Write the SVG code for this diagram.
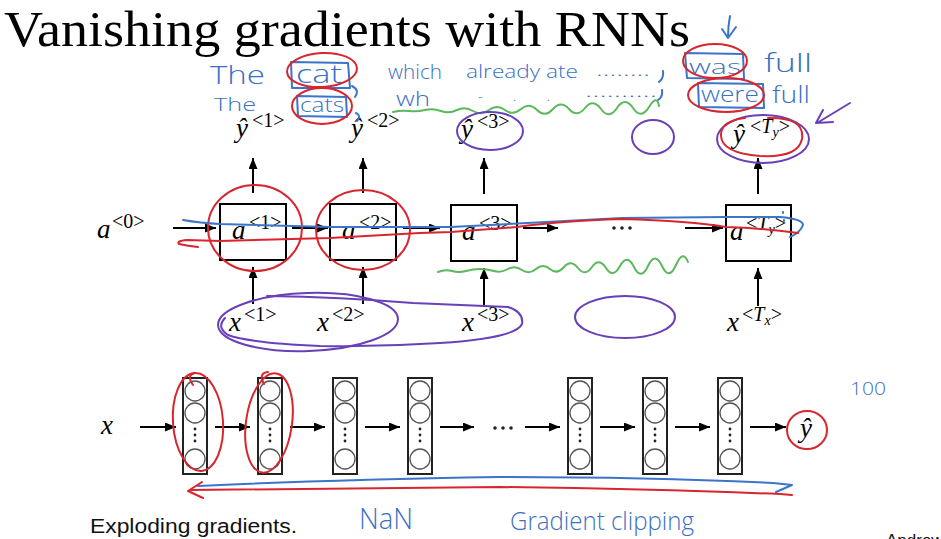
<svg xmlns="http://www.w3.org/2000/svg" width="941" height="539" viewBox="0 0 941 539">
  <defs>
    <marker id="ah" markerUnits="userSpaceOnUse" markerWidth="11" markerHeight="9" refX="11" refY="4.5" orient="auto">
      <path d="M0,0 L11,4.5 L0,9 z" fill="#000"/>
    </marker>
    <style>
      .title{font-family:"Liberation Serif",serif;font-size:50px;fill:#000}
      .mi{font-family:"Liberation Serif",serif;font-style:italic;font-size:27px;fill:#000}
      .sup{font-family:"Liberation Serif",serif;font-size:20px;fill:#000}
      .supi{font-style:italic}
      .box{fill:#fff;stroke:#000;stroke-width:2}
      .col{fill:#fff;stroke:#222;stroke-width:2}
      .unit{fill:none;stroke:#555;stroke-width:1.3}
      .dot{fill:#222}
      .edge{stroke:#000;stroke-width:2;fill:none;marker-end:url(#ah)}
      .hand{font-family:"Open Sans","DejaVu Sans",sans-serif;font-weight:300;fill:#3b70c4}
      .blue{fill:none;stroke:#3b74c8;stroke-width:2;stroke-linecap:round;stroke-linejoin:round}
      .red{fill:none;stroke:#d8262e;stroke-width:2;stroke-linecap:round;stroke-linejoin:round}
      .purple{fill:none;stroke:#6a40b8;stroke-width:2;stroke-linecap:round;stroke-linejoin:round}
      .green{fill:none;stroke:#5cb85c;stroke-width:2;stroke-linecap:round;stroke-linejoin:round}
      .sans{font-family:"Liberation Sans","Open Sans",sans-serif;fill:#111}
    </style>
  </defs>

  <rect width="941" height="539" fill="#fff"/>

  <text class="title" x="4" y="46" textLength="686" lengthAdjust="spacingAndGlyphs">Vanishing gradients with RNNs</text>

  <!-- RNN unrolled over time -->
  <g id="rnn-cells">
    <g id="a1"><rect class="box" x="220" y="204" width="66" height="56"/>
      <text class="mi" x="232" y="239">a</text><text class="sup" x="249" y="229">&lt;1&gt;</text></g>
    <g id="a2"><rect class="box" x="330" y="204" width="66" height="56"/>
      <text class="mi" x="342" y="239">a</text><text class="sup" x="359" y="229">&lt;2&gt;</text></g>
    <g id="a3"><rect class="box" x="451" y="205" width="66" height="56"/>
      <text class="mi" x="462" y="240">a</text><text class="sup" x="479" y="230">&lt;3&gt;</text></g>
    <g id="aTy"><rect class="box" x="726" y="205" width="65" height="56"/>
      <text class="mi" x="730" y="240">a</text><text class="sup" x="746" y="230">&lt;<tspan class="supi">T</tspan><tspan class="supi" font-size="14" dy="4">y</tspan><tspan dy="-4">&gt;</tspan></text></g>
  </g>

  <g id="rnn-labels">
    <g id="a0"><text class="mi" x="97" y="238">a</text><text class="sup" x="112" y="228">&lt;0&gt;</text></g>
    <g id="x1"><text class="mi" x="229" y="331">x</text><text class="sup" x="244" y="321">&lt;1&gt;</text></g>
    <g id="x2"><text class="mi" x="317" y="331">x</text><text class="sup" x="332" y="321">&lt;2&gt;</text></g>
    <g id="x3"><text class="mi" x="462" y="331">x</text><text class="sup" x="477" y="321">&lt;3&gt;</text></g>
    <g id="xTx"><text class="mi" x="727" y="331">x</text><text class="sup" x="742" y="321">&lt;<tspan class="supi">T</tspan><tspan class="supi" font-size="14" dy="4">x</tspan><tspan dy="-4">&gt;</tspan></text></g>
    <g id="y1"><text class="mi" x="236" y="137">ŷ</text><text class="sup" x="252" y="127">&lt;1&gt;</text></g>
    <g id="y2"><text class="mi" x="351" y="137">ŷ</text><text class="sup" x="367" y="127">&lt;2&gt;</text></g>
    <g id="y3"><text class="mi" x="461" y="138">ŷ</text><text class="sup" x="477" y="128">&lt;3&gt;</text></g>
    <g id="yTy"><text class="mi" x="733" y="143">ŷ</text><text class="sup" x="750" y="133">&lt;<tspan class="supi">T</tspan><tspan class="supi" font-size="14" dy="4">y</tspan><tspan dy="-4">&gt;</tspan></text></g>
    <g id="rnn-ellipsis" class="dot"><circle cx="614" cy="228" r="1.8"/><circle cx="622" cy="228" r="1.8"/><circle cx="630" cy="228" r="1.8"/></g>
  </g>

  <!-- deep feed-forward network -->
  <g id="ffn">
    <text id="ffn-x" class="mi" x="101" y="434">x</text>
    <g id="c1"><rect class="col" x="183" y="378" width="24" height="96"/></g>
    <g id="c2"><rect class="col" x="258" y="378" width="24" height="96"/></g>
    <g id="c3"><rect class="col" x="333" y="378" width="24" height="96"/></g>
    <g id="c4"><rect class="col" x="408" y="378" width="24" height="96"/></g>
    <g id="c5"><rect class="col" x="568" y="378" width="24" height="96"/></g>
    <g id="c6"><rect class="col" x="643" y="378" width="24" height="96"/></g>
    <g id="c7"><rect class="col" x="718" y="378" width="24" height="96"/></g>
    <g id="units">
      <g transform="translate(195,0)"><circle class="unit" cy="391" r="10"/><circle class="unit" cy="413" r="10"/><circle class="unit" cy="459" r="10"/><circle class="dot" cy="429" r="1.4"/><circle class="dot" cy="435" r="1.4"/><circle class="dot" cy="441" r="1.4"/></g>
      <g transform="translate(270,0)"><circle class="unit" cy="391" r="10"/><circle class="unit" cy="413" r="10"/><circle class="unit" cy="459" r="10"/><circle class="dot" cy="429" r="1.4"/><circle class="dot" cy="435" r="1.4"/><circle class="dot" cy="441" r="1.4"/></g>
      <g transform="translate(345,0)"><circle class="unit" cy="391" r="10"/><circle class="unit" cy="413" r="10"/><circle class="unit" cy="459" r="10"/><circle class="dot" cy="429" r="1.4"/><circle class="dot" cy="435" r="1.4"/><circle class="dot" cy="441" r="1.4"/></g>
      <g transform="translate(420,0)"><circle class="unit" cy="391" r="10"/><circle class="unit" cy="413" r="10"/><circle class="unit" cy="459" r="10"/><circle class="dot" cy="429" r="1.4"/><circle class="dot" cy="435" r="1.4"/><circle class="dot" cy="441" r="1.4"/></g>
      <g transform="translate(580,0)"><circle class="unit" cy="391" r="10"/><circle class="unit" cy="413" r="10"/><circle class="unit" cy="459" r="10"/><circle class="dot" cy="429" r="1.4"/><circle class="dot" cy="435" r="1.4"/><circle class="dot" cy="441" r="1.4"/></g>
      <g transform="translate(655,0)"><circle class="unit" cy="391" r="10"/><circle class="unit" cy="413" r="10"/><circle class="unit" cy="459" r="10"/><circle class="dot" cy="429" r="1.4"/><circle class="dot" cy="435" r="1.4"/><circle class="dot" cy="441" r="1.4"/></g>
      <g transform="translate(730,0)"><circle class="unit" cy="391" r="10"/><circle class="unit" cy="413" r="10"/><circle class="unit" cy="459" r="10"/><circle class="dot" cy="429" r="1.4"/><circle class="dot" cy="435" r="1.4"/><circle class="dot" cy="441" r="1.4"/></g>
    </g>
    <g id="ffn-ellipsis" class="dot"><circle cx="495" cy="428" r="1.8"/><circle cx="503" cy="428" r="1.8"/><circle cx="511" cy="428" r="1.8"/></g>
    <text id="ffn-yhat" class="mi" x="800" y="437">ŷ</text>
  </g>

  <g id="connectors">
    <!-- recurrent links -->
    <line class="edge" x1="173" y1="228" x2="216" y2="228"/>
    <line class="edge" x1="292" y1="228" x2="328" y2="228"/>
    <line class="edge" x1="403" y1="228" x2="440" y2="228"/>
    <line class="edge" x1="523" y1="228" x2="558" y2="228"/>
    <line class="edge" x1="685" y1="228" x2="723" y2="228"/>
    <!-- outputs -->
    <line class="edge" x1="253" y1="193" x2="253" y2="158"/>
    <line class="edge" x1="363" y1="193" x2="363" y2="158"/>
    <line class="edge" x1="484" y1="194" x2="484" y2="158"/>
    <line class="edge" x1="758" y1="194" x2="758" y2="158"/>
    <!-- inputs -->
    <line class="edge" x1="253" y1="304" x2="253" y2="267"/>
    <line class="edge" x1="363" y1="304" x2="363" y2="267"/>
    <line class="edge" x1="484" y1="306" x2="484" y2="268"/>
    <line class="edge" x1="758" y1="306" x2="758" y2="268"/>
    <!-- layer to layer -->
    <line class="edge" x1="140" y1="427" x2="176" y2="427"/>
    <line class="edge" x1="215" y1="427" x2="250" y2="427"/>
    <line class="edge" x1="290" y1="427" x2="325" y2="427"/>
    <line class="edge" x1="365" y1="427" x2="400" y2="427"/>
    <line class="edge" x1="440" y1="427" x2="474" y2="427"/>
    <line class="edge" x1="525" y1="427" x2="560" y2="427"/>
    <line class="edge" x1="600" y1="427" x2="635" y2="427"/>
    <line class="edge" x1="675" y1="427" x2="710" y2="427"/>
    <line class="edge" x1="750" y1="427" x2="786" y2="427"/>
  </g>

  <!-- pen annotations -->
  <g id="annotations">
    <!-- sentence written above the outputs -->
    <text class="hand" x="210" y="84" font-size="25" textLength="55" lengthAdjust="spacingAndGlyphs">The</text>
    <text class="hand" x="296" y="83" font-size="25" textLength="46" lengthAdjust="spacingAndGlyphs">cat</text>
    <text class="hand" x="388" y="79" font-size="21" textLength="54" lengthAdjust="spacingAndGlyphs">which</text>
    <text class="hand" x="466" y="78" font-size="19" textLength="112" lengthAdjust="spacingAndGlyphs">already ate</text>
    <text class="hand" x="596" y="76" font-size="17" textLength="54" lengthAdjust="spacingAndGlyphs">........</text>
    <text class="hand" x="689" y="74" font-size="21" textLength="52" lengthAdjust="spacingAndGlyphs">was</text>
    <text class="hand" x="764" y="72" font-size="26" textLength="48" lengthAdjust="spacingAndGlyphs">full</text>
    <text class="hand" x="214" y="111" font-size="18" textLength="42" lengthAdjust="spacingAndGlyphs">The</text>
    <text class="hand" x="300" y="112" font-size="20" textLength="44" lengthAdjust="spacingAndGlyphs">cats</text>
    <text class="hand" x="396" y="106" font-size="20" textLength="34" lengthAdjust="spacingAndGlyphs">wh</text>
    <text class="hand" x="478" y="101" font-size="14" textLength="72" lengthAdjust="spacing">- . .</text>
    <text class="hand" x="585" y="97" font-size="17" textLength="72" lengthAdjust="spacingAndGlyphs">..........</text>
    <text class="hand" x="701" y="102" font-size="22" textLength="58" lengthAdjust="spacingAndGlyphs">were</text>
    <text class="hand" x="772" y="103" font-size="24" textLength="38" lengthAdjust="spacingAndGlyphs">full</text>
    <path class="blue" d="M352 86 Q360 90 355 97 M356 113 Q362 116 357 121 M663 71 Q664 78 659 82 M662 90 Q663 97 658 100"/>
    <!-- boxes round the words -->
    <path class="blue" d="M291 62 L348 63 L350 88 L292 88 Z M297 96 L346 97 L347 117 L298 116 Z M685 53 L743 54 L744 79 L687 78 Z M698 83 L763 84 L764 108 L699 107 Z"/>
    <path class="blue" d="M730 16 Q728 26 728 37 M722 29 L728 38 L736 27"/>
    <ellipse class="red" cx="322" cy="70" rx="35" ry="17" transform="rotate(-3 322 70)"/>
    <ellipse class="red" cx="322" cy="106" rx="30" ry="18"/>
    <ellipse class="red" cx="715" cy="61" rx="32" ry="17"/>
    <ellipse class="red" cx="726" cy="95" rx="38" ry="17"/>
    <path class="green" d="M393 112 q8 -2 16 -1 t16 -1 t16 1 t16 -1 t16 1 t16 -1 t16 0 t16 -1 t16 1 t16 -1 t16 0 t16 -1 t16 1 t16 -1 t16 0 t16 -1 t10 -1"/>

    <!-- marks on the outputs -->
    <ellipse class="purple" cx="490" cy="131" rx="33" ry="19"/>
    <ellipse class="purple" cx="653" cy="137" rx="21" ry="17"/>
    <ellipse class="purple" cx="763" cy="139" rx="46" ry="24"/>
    <path class="red" d="M768 118 Q805 117 802 139 Q798 158 760 156 Q722 153 721 136 Q720 121 745 118"/>
    <path class="purple" d="M850 103 L817 123 M823 110 L816 123 L833 122"/>

    <!-- forward and backward passes through time -->
    <ellipse class="red" cx="255" cy="228" rx="47" ry="43"/>
    <ellipse class="red" cx="363" cy="230" rx="47" ry="40"/>
    <path class="blue" d="M183 220 Q200 223 220 224 L330 227 L451 227 Q540 222 622 218 L726 217 L780 217 Q803 219 803 225 Q800 233 790 237 M783 212 L783 213 M784 220 L784 221"/>
    <path class="red" d="M798 233 Q760 228 726 227 Q690 221 622 219 Q560 221 517 227 L451 232 L420 233 L330 238 L220 241 L187 240 Q176 241 179 244 Q188 246 198 247"/>
    <path class="green" d="M438 272 q7 -3 14 -1 t14 0 t14 -2 t14 2 t14 -2 t14 1 t14 -1 t14 0 t14 -2 t14 1 t14 -1 t14 1 t14 -2 t14 1 t14 -1 t14 0 t14 -1 t12 -3"/>
    <ellipse class="purple" cx="308" cy="322" rx="90" ry="29" transform="rotate(-2 308 322)"/>
    <path class="purple" d="M267 296 Q340 297 413 303 Q480 306 508 307 Q524 312 522 324 Q516 338 440 343 Q380 347 320 346 Q250 343 228 335 Q216 327 225 318"/>
    <ellipse class="purple" cx="625" cy="317" rx="50" ry="21"/>

    <!-- marks on the deep network -->
    <ellipse class="red" cx="198" cy="422" rx="25" ry="49" transform="rotate(-4 198 422)"/>
    <path class="red" d="M193 385 Q186 375 195 373"/>
    <ellipse class="red" cx="269" cy="423" rx="23" ry="50" transform="rotate(8 269 423)"/>
    <path class="red" d="M264 384 Q258 373 268 372"/>
    <ellipse class="red" cx="807" cy="430" rx="20" ry="19"/>
    <path class="blue" d="M198 486 Q320 480 500 477 Q650 477 773 483 L792 485 L776 492"/>
    <path class="red" d="M202 482 L188 491 L203 498 M190 490 Q350 488 500 487 Q650 489 780 494 L792 495"/>
    <text class="hand" x="850" y="395" font-size="18" textLength="36" lengthAdjust="spacingAndGlyphs">100</text>
    <text class="hand" x="359" y="529" font-size="29" textLength="54" lengthAdjust="spacingAndGlyphs">NaN</text>
    <text class="hand" x="510" y="530" font-size="26" textLength="184" lengthAdjust="spacingAndGlyphs">Gradient clipping</text>
  </g>

  <text class="sans" x="90" y="533" font-size="20" textLength="207" lengthAdjust="spacingAndGlyphs">Exploding gradients.</text>
  <text class="sans" x="886" y="546" font-size="17">Andrew Ng</text>
</svg>
